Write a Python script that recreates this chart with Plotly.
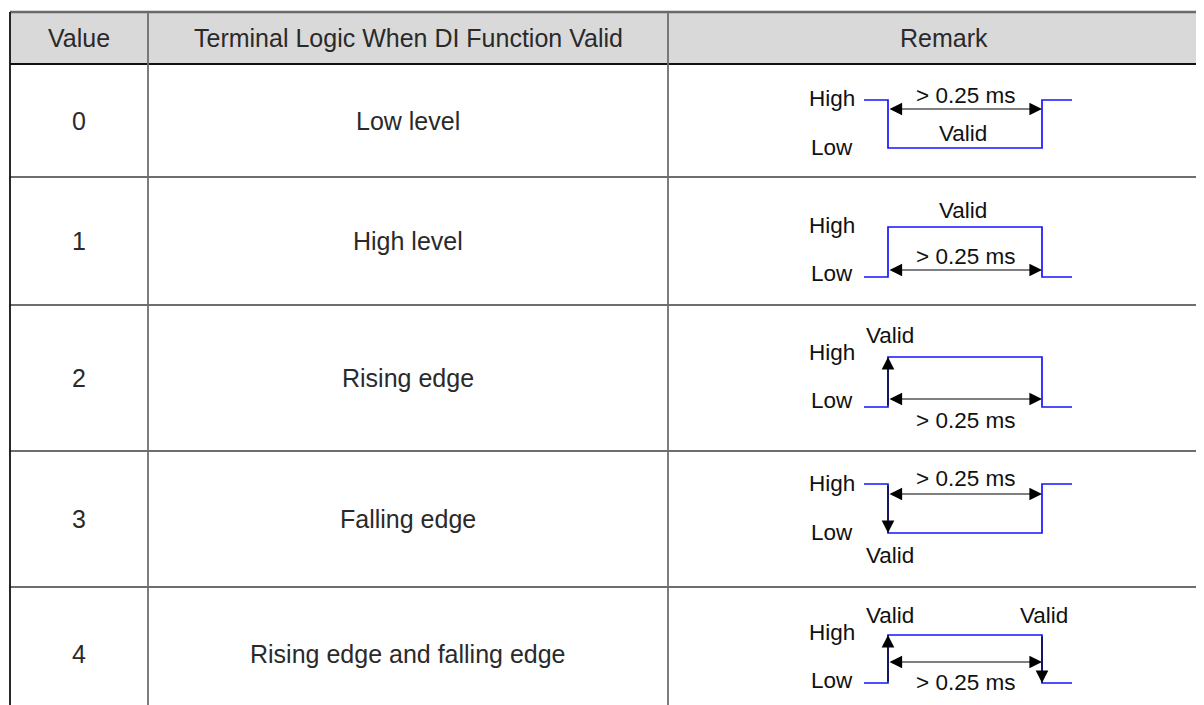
import plotly.graph_objects as go

# ---------------- data ----------------
header = ["Value", "Terminal Logic When DI Function Valid", "Remark"]
values = ["0", "1", "2", "3", "4"]
logic = ["Low level", "High level", "Rising edge", "Falling edge",
         "Rising edge and falling edge"]
idle_level = ["High", "Low", "Low", "High", "Low"]      # signal level outside the pulse
valid_edges = [[], [], [0], [0], [0, 1]]                # transitions marked "Valid" (0 = first, 1 = second)
duration_text = "> 0.25 ms"
valid_text = "Valid"
level_names = ["High", "Low"]

# ---------------- layout (pixel geometry) ----------------
PAGE_OFF = 8                      # default body margin of the html page
W, H = 1204, 705
FONT = "Liberation Sans, Arial, sans-serif"
FS_TABLE = 25
FS_WAVE = 22.5
TXT_TABLE = "#2a2a2a"
TXT_WAVE = "#111111"
BLUE = "#1414ff"
col_x = [10, 148, 668, 1220]
row_y = [12, 64, 177, 305, 451, 587, 720]
# per-row waveform geometry
wave_geo = [
    dict(hi=100, lo=148, arr=109, dur=95, val=133, hil=98, lol=147),
    dict(hi=227, lo=277, arr=270, dur=256, val=210, hil=225, lol=273),
    dict(hi=357, lo=407, arr=399, dur=420, val=335, hil=352, lol=400),
    dict(hi=484, lo=533, arr=494, dur=478, val=555, hil=483, lol=532),
    dict(hi=635, lo=683, arr=662, dur=682, val=615, hil=632, lol=680),
]
X_IN, X_E1, X_E2, X_OUT = 864, 888, 1042, 1072

fig = go.Figure()
shapes = []
annotations = []

# header background
shapes.append(dict(type="rect", x0=col_x[0], x1=col_x[-1], y0=row_y[0], y1=row_y[1],
                   fillcolor="#d9d9d9", line=dict(width=0), layer="below"))
# horizontal lines
for i, y in enumerate(row_y[:-1]):
    if i == 0:
        col, w = "#6a6a6a", 2.5
    elif i == 1:
        col, w = "#111111", 2
    else:
        col, w = "#6e6e6e", 2
    shapes.append(dict(type="line", x0=col_x[0], x1=col_x[-1], y0=y, y1=y,
                       line=dict(color=col, width=w)))
# vertical lines
for j, x in enumerate(col_x[:-1]):
    col = "#111111" if j == 0 else "#6e6e6e"
    shapes.append(dict(type="line", x0=x, x1=x, y0=row_y[0], y1=row_y[-1],
                       line=dict(color=col, width=1.8)))


def text(x, y, s, xanchor="center", size=FS_WAVE, color=TXT_WAVE):
    annotations.append(dict(x=x, y=y, text=s, showarrow=False, xanchor=xanchor,
                            yanchor="middle", font=dict(family=FONT, size=size, color=color)))


def arrow(x0, y0, x1, y1, both=False):
    d = dict(x=x1, y=y1, ax=x0, ay=y0, xref="x", yref="y", axref="x", ayref="y",
             text="", showarrow=True, arrowhead=2, arrowsize=2.1, arrowwidth=1.2,
             arrowcolor="#000000")
    if both:
        d.update(arrowside="end+start", startarrowhead=2, startarrowsize=2.1)
    annotations.append(d)


# header texts
for j, h in enumerate(header):
    text((col_x[j] + col_x[j + 1]) / 2, (row_y[0] + row_y[1]) / 2, h,
         size=FS_TABLE, color=TXT_TABLE)

# body rows
for i in range(len(values)):
    yc = (row_y[i + 1] + row_y[i + 2]) / 2
    text((col_x[0] + col_x[1]) / 2, yc, values[i], size=FS_TABLE, color=TXT_TABLE)
    text((col_x[1] + col_x[2]) / 2, yc, logic[i], size=FS_TABLE, color=TXT_TABLE)

    g = wave_geo[i]
    idle_y = g["hi"] if idle_level[i] == "High" else g["lo"]
    pulse_y = g["lo"] if idle_level[i] == "High" else g["hi"]
    xs = [X_IN, X_E1, X_E1, X_E2, X_E2, X_OUT]
    ys = [idle_y, idle_y, pulse_y, pulse_y, idle_y, idle_y]
    fig.add_trace(go.Scatter(x=xs, y=ys, mode="lines", line=dict(color=BLUE, width=1.7),
                             hoverinfo="skip", showlegend=False))
    # level labels
    text(857, g["hil"], level_names[0], xanchor="right")
    text(855, g["lol"], level_names[1], xanchor="right")
    # duration double arrow
    arrow(X_E1, g["arr"], X_E2, g["arr"], both=True)
    text((X_E1 + X_E2) / 2, g["dur"], duration_text)
    # valid marks
    if not valid_edges[i]:
        text((X_E1 + X_E2) / 2 - 2, g["val"], valid_text)
    for e in valid_edges[i]:
        ex = X_E1 if e == 0 else X_E2
        start_y = idle_y if e == 0 else pulse_y
        end_y = pulse_y if e == 0 else idle_y
        arrow(ex, start_y, ex, end_y)
        text(ex + 2, g["val"], valid_text)

fig.update_layout(
    width=W - PAGE_OFF, height=H - PAGE_OFF, margin=dict(l=0, r=0, t=0, b=0),
    paper_bgcolor="white", plot_bgcolor="white",
    xaxis=dict(range=[PAGE_OFF, W], visible=False, fixedrange=True),
    yaxis=dict(range=[H, PAGE_OFF], visible=False, fixedrange=True),
    shapes=shapes, annotations=annotations, showlegend=False,
)
fig.write_html("out.html")
